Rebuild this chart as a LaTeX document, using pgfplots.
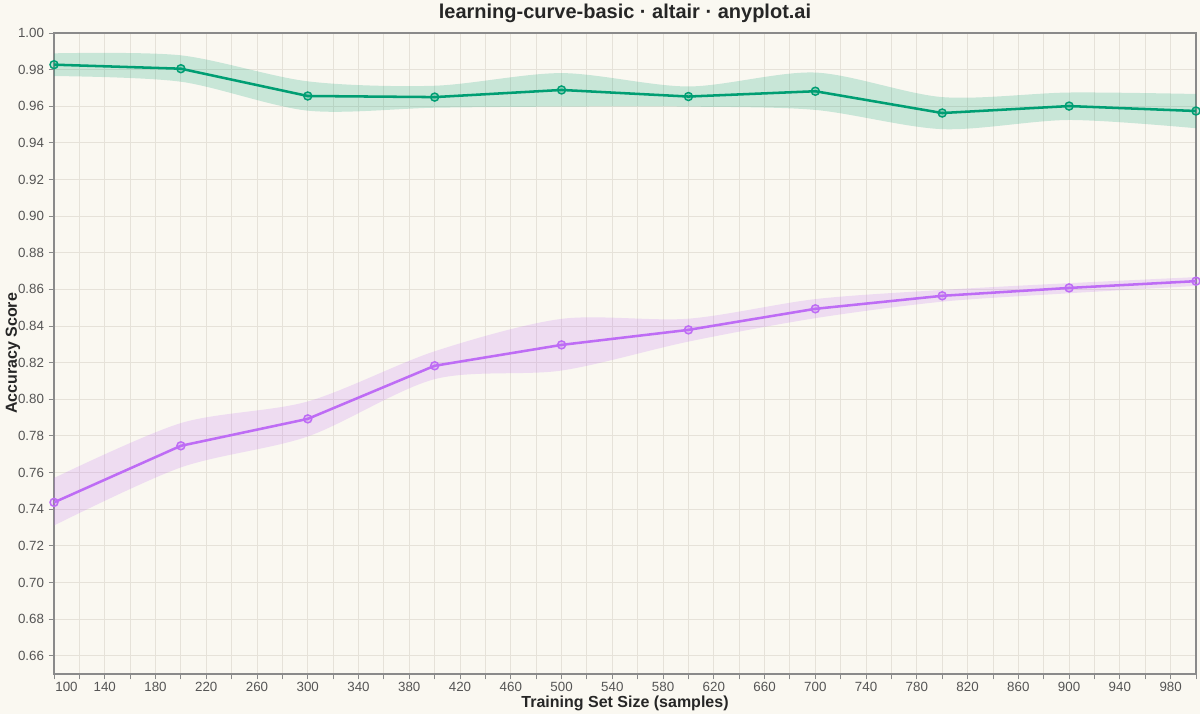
\documentclass[border=0pt]{standalone}
\usepackage{fontspec}
\setmainfont{Liberation Sans}
\usepackage{xcolor}
\usepackage{pgfplots}
\pgfplotsset{compat=1.18}
\usepgfplotslibrary{fillbetween}

\definecolor{bg}{HTML}{FAF8F1}
\definecolor{gridc}{HTML}{E6E2D9}
\definecolor{axc}{HTML}{8A8A8A}
\definecolor{tickc}{HTML}{555555}
\definecolor{trainc}{HTML}{009E73}
\definecolor{valc}{HTML}{BE6CF5}

% x, mean, lower, upper
\pgfplotstableread{
x    m      lo     hi
100  0.9827 0.9765 0.9889
200  0.9805 0.9734 0.9878
300  0.9656 0.9576 0.9736
400  0.9650 0.9592 0.9712
500  0.9689 0.9598 0.9781
600  0.9653 0.9598 0.9708
700  0.9682 0.9580 0.9784
800  0.9563 0.9475 0.9650
900  0.9601 0.9525 0.9675
1000 0.9574 0.9480 0.9667
}\traintab

\pgfplotstableread{
x    m      lo     hi
100  0.7437 0.7311 0.7570
200  0.7746 0.7628 0.7870
300  0.7893 0.7797 0.7988
400  0.8183 0.8110 0.8262
500  0.8297 0.8157 0.8439
600  0.8379 0.8315 0.8440
700  0.8494 0.8443 0.8547
800  0.8565 0.8533 0.8597
900  0.8608 0.8579 0.8634
1000 0.8645 0.8619 0.8667
}\validtab

\pagecolor{bg}
\begin{document}
\begin{tikzpicture}
\path (-40.5pt,-30pt) rectangle (859.5pt,505.5pt);
\begin{axis}[
  at={(0,0)}, anchor=south west,
  scale only axis,
  width=856.5pt, height=480.75pt,
  xmin=100, xmax=1000,
  ymin=0.65, ymax=1.0,
  xtick={140,180,...,980},
  extra x ticks={100},
  extra x tick style={xticklabel style={anchor=north west, xshift=-2.5pt}},
  minor xtick={120,160,...,1000},
  ytick={0.66,0.68,...,1.001},
  grid=both,
  major grid style={gridc, line width=0.7pt},
  minor grid style={gridc, line width=0.7pt},
  axis line style={axc, line width=0.9pt},
  tick pos=left,
  tick align=outside,
  major tick length=4pt,
  minor tick length=4pt,
  every tick/.style={axc, line width=0.7pt},
  tick label style={font=\fontsize{10pt}{12pt}\selectfont, text=tickc},
  /pgf/number format/assume math mode=true,
  yticklabel style={/pgf/number format/fixed, /pgf/number format/fixed zerofill,
    /pgf/number format/precision=2},
  xticklabel style={/pgf/number format/fixed, /pgf/number format/int detect,
    /pgf/number format/1000 sep={}, yshift=1.5pt},
  scaled ticks=false,
  xlabel={Training Set Size (samples)},
  ylabel={Accuracy Score},
  xlabel style={font=\fontsize{12pt}{14pt}\selectfont\bfseries, text=black!85,
    at={(axis description cs:0.5,-0.0452)}, anchor=center, inner sep=0pt, overlay},
  ylabel style={font=\fontsize{12pt}{14pt}\selectfont\bfseries, text=black!85,
    at={(axis description cs:-0.0359,0.5)}, anchor=center, inner sep=0pt, overlay},
  title={learning-curve-basic · altair · anyplot.ai},
  title style={font=\fontsize{15pt}{18pt}\selectfont\bfseries, text=black!85,
    at={(axis description cs:0.5,1.0312)}, anchor=center, yshift=-6pt,
    inner sep=0pt, overlay},
]
% training band
\addplot[name path=tu, draw=none, smooth, forget plot] table[x=x, y=hi] {\traintab};
\addplot[name path=tl, draw=none, smooth, forget plot] table[x=x, y=lo] {\traintab};
\addplot[trainc, fill opacity=0.2, draw=none, forget plot] fill between[of=tu and tl];
% validation band
\addplot[name path=vu, draw=none, smooth, forget plot] table[x=x, y=hi] {\validtab};
\addplot[name path=vl, draw=none, smooth, forget plot] table[x=x, y=lo] {\validtab};
\addplot[valc, fill opacity=0.2, draw=none, forget plot] fill between[of=vu and vl];
% means
\addplot[trainc, line width=1.9pt, mark=*, mark size=3pt,
  mark options={draw=trainc, line width=1.1pt, fill=trainc, fill opacity=0.25}]
  table[x=x, y=m] {\traintab};
\addplot[valc, line width=1.9pt, mark=*, mark size=3pt,
  mark options={draw=valc, line width=1.1pt, fill=valc, fill opacity=0.25}]
  table[x=x, y=m] {\validtab};
\end{axis}
\end{tikzpicture}
\end{document}
